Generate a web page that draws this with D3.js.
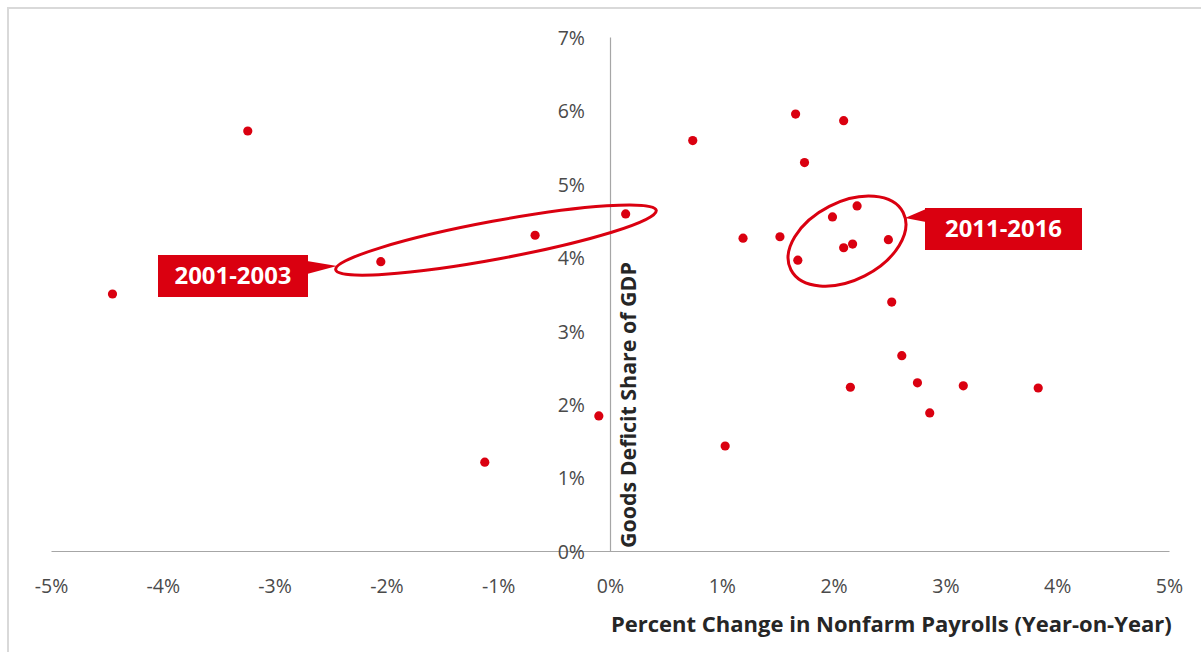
<!DOCTYPE html>
<html>
<head>
<meta charset="utf-8">
<script src="https://cdn.jsdelivr.net/npm/d3@7/dist/d3.min.js"></script>
<style>
  html, body { margin: 0; padding: 0; background: #fff; }
  svg { display: block; font-family: "Open Sans", "Liberation Sans", sans-serif; }
</style>
</head>
<body>
<svg id="chart" width="1201" height="652"></svg>
<script>
// Year-on-year change in nonfarm payrolls (%) vs goods deficit share of GDP (%)
const payrollChange = [-4.45, -3.24, -2.05, -0.67, 0.14, -0.10, -1.12, 0.74, 1.03, 1.19,
                        1.52, 1.66, 2.09, 1.74, 2.21, 1.99, 2.49, 2.17, 2.09, 1.68,
                        2.52, 2.61, 2.15, 2.75, 3.16, 3.83, 2.86];
const deficitShare  = [3.50, 5.72, 3.94, 4.30, 4.59, 1.84, 1.21, 5.59, 1.43, 4.26,
                        4.28, 5.95, 5.86, 5.29, 4.70, 4.55, 4.24, 4.18, 4.13, 3.96,
                        3.39, 2.66, 2.23, 2.29, 2.25, 2.22, 1.88];
const xTicks = [-5, -4, -3, -2, -1, 0, 1, 2, 3, 4, 5];
const yTicks = [0, 1, 2, 3, 4, 5, 6, 7];
const xTitle = "Percent Change in Nonfarm Payrolls (Year-on-Year)";
const yTitle = "Goods Deficit Share of GDP";
// Highlighted periods: label, ellipse centre in data units
const calloutLabels = ["2001-2003", "2011-2016"];
const calloutCx = [-1.02, 2.12];
const calloutCy = [4.235, 4.22];

const RED = "#DA0010";
const svg = d3.select("#chart");

// chart area border
svg.append("rect").attr("x", 8).attr("y", 8).attr("width", 1300).attr("height", 700)
  .attr("fill", "none").attr("stroke", "#D9D9D9").attr("stroke-width", 2);

const x = d3.scaleLinear().domain([-5, 5]).range([51, 1169]);
const y = d3.scaleLinear().domain([0, 7]).range([551, 37]);
// plain hyphen for negatives
const pct = d => (d < 0 ? "-" : "") + Math.abs(d) + "%";

// horizontal axis at y = 0
const xAxis = svg.append("g").attr("transform", `translate(0,${y(0)})`)
  .call(d3.axisBottom(x).tickValues(xTicks).tickFormat(pct).tickSize(0).tickPadding(28));
xAxis.select(".domain").attr("stroke", "#A6A6A6").attr("stroke-width", 1.2);
xAxis.selectAll("text").attr("font-size", 19.5).attr("fill", "#4A4A4A")
  .attr("font-family", "Open Sans");

// vertical axis at x = 0, labels sit at the left of the plot region
const yAxisLine = svg.append("g").attr("transform", `translate(${x(0)},0)`)
  .call(d3.axisLeft(y).tickValues([]).tickSize(0));
yAxisLine.select(".domain").attr("stroke", "#A6A6A6").attr("stroke-width", 1.2);
const yLabels = svg.append("g").attr("transform", `translate(${x(0)},0)`)
  .call(d3.axisLeft(y).tickValues(yTicks).tickFormat(pct).tickSize(0).tickPadding(25));
yLabels.select(".domain").remove();
yLabels.selectAll("text").attr("font-size", 19.5).attr("fill", "#4A4A4A")
  .attr("font-family", "Open Sans").attr("dy", "0.38em");

// fit text to a width
function fit(sel, width) {
  const w = sel.node().getComputedTextLength();
  const fs = parseFloat(sel.attr("font-size"));
  sel.attr("font-size", fs * width / w);
}

// axis titles
const xt = svg.append("text").attr("x", 611).attr("y", 632).attr("font-size", 20)
  .attr("font-weight", "bold").attr("fill", "#262626").text(xTitle);
fit(xt, 561);
const yt = svg.append("text").attr("transform", `translate(636,548) rotate(-90)`)
  .attr("font-size", 20).attr("font-weight", "bold").attr("fill", "#262626").text(yTitle);
fit(yt, 286);

// points
svg.append("g").selectAll("circle")
  .data(payrollChange.map((v, i) => [v, deficitShare[i]]))
  .join("circle")
  .attr("cx", d => x(d[0])).attr("cy", d => y(d[1])).attr("r", 4.6)
  .attr("fill", RED);

// callouts: ellipse, pointer wedge, label box
const ellipses = [
  { rx: 163, ry: 19, rot: -10.5 },
  { rx: 63, ry: 39, rot: -27 }
];
const boxes = [
  { x: 158, y: 255, w: 150, h: 42, wedge: [[307, 261], [307, 274], [337, 266]] },
  { x: 925, y: 208, w: 157, h: 42, wedge: [[926, 209], [926, 222], [905, 218]] }
];
calloutLabels.forEach((lab, i) => {
  const e = ellipses[i], b = boxes[i];
  svg.append("ellipse")
    .attr("transform", `translate(${x(calloutCx[i])},${y(calloutCy[i])}) rotate(${e.rot})`)
    .attr("rx", e.rx).attr("ry", e.ry)
    .attr("fill", "none").attr("stroke", RED).attr("stroke-width", 3);
  svg.append("polygon").attr("points", b.wedge.map(p => p.join(",")).join(" "))
    .attr("fill", RED);
  svg.append("rect").attr("x", b.x).attr("y", b.y).attr("width", b.w).attr("height", b.h)
    .attr("fill", RED);
  const t = svg.append("text").attr("x", b.x + b.w / 2).attr("y", b.y + b.h / 2 + 7.5)
    .attr("text-anchor", "middle").attr("font-size", 21).attr("font-weight", "bold")
    .attr("fill", "#fff").text(lab);
  fit(t, 117);
});
</script>
</body>
</html>
